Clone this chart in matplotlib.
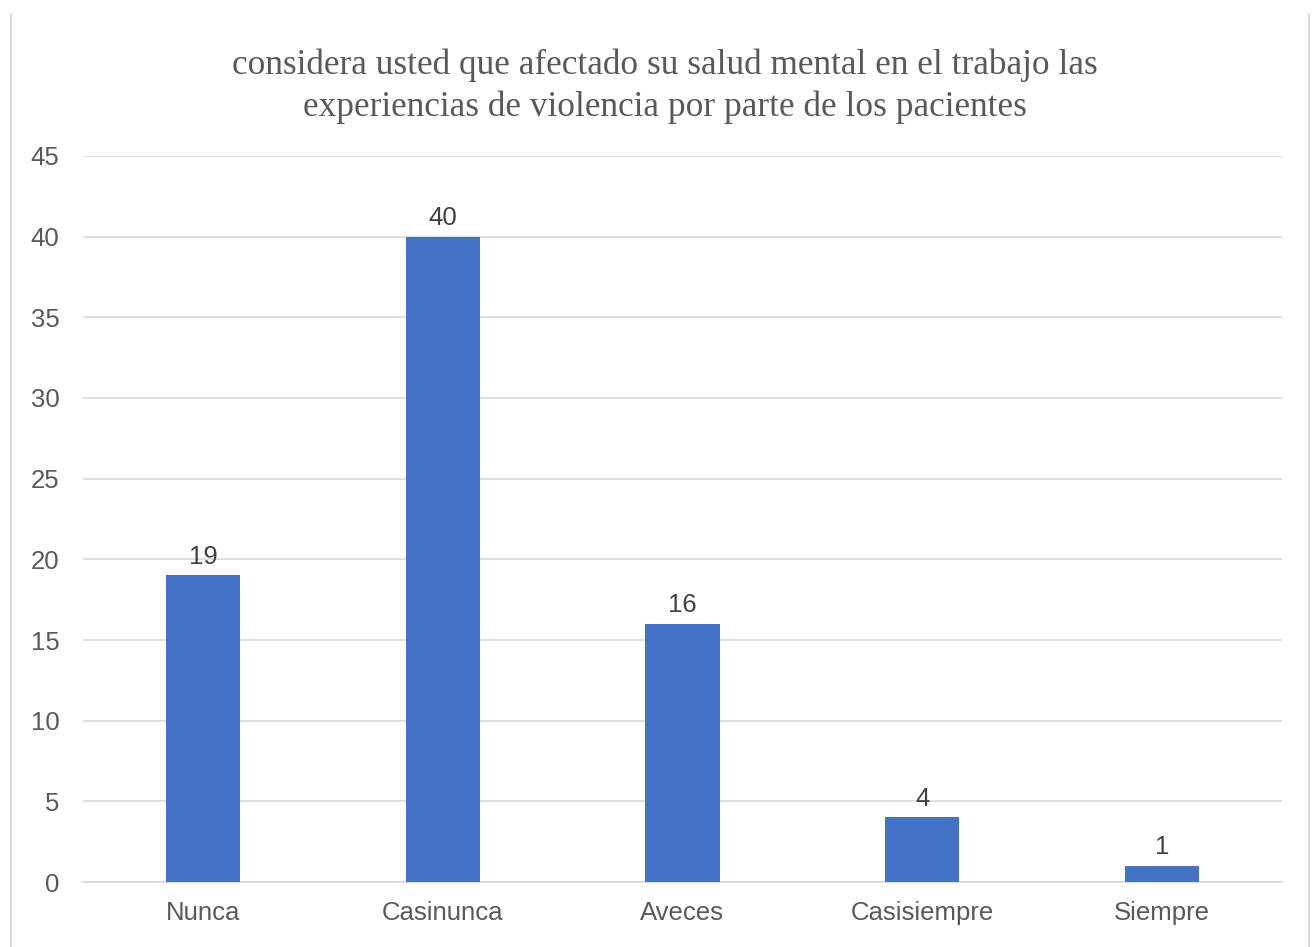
import matplotlib
matplotlib.use("Agg")
import matplotlib.pyplot as plt
from matplotlib.lines import Line2D

categorias = ["Nunca", "Casinunca", "Aveces", "Casisiempre", "Siempre"]
valores = [19, 40, 16, 4, 1]
ticks_y = [0, 5, 10, 15, 20, 25, 30, 35, 40, 45]
titulo = ("considera usted que afectado su salud mental en el trabajo las\n"
          "experiencias de violencia por parte de los pacientes")

fig = plt.figure(figsize=(13.12, 9.47), dpi=100)
ax = fig.add_axes([0.0633, 0.0686, 0.9137, 0.7667])

x = list(range(len(categorias)))
ax.bar(x, valores, width=0.31, color="#4472C4", zorder=3)
for xi, v in zip(x, valores):
    ax.annotate(str(v), (xi, v), xytext=(0, 5), textcoords="offset points",
                ha="center", va="bottom", fontsize=18.5, color="#404040",
                family="Liberation Sans")

ax.set_xlim(-0.5, len(categorias) - 0.5)
ax.set_ylim(0, 45)
ax.set_yticks(ticks_y)
ax.set_xticks(x)
ax.set_xticklabels(categorias)
ax.yaxis.grid(True, color="#D9D9D9", linewidth=1.2, zorder=0)
ax.set_axisbelow(True)
for s in ["top", "right", "left"]:
    ax.spines[s].set_visible(False)
ax.spines["bottom"].set_color("#D9D9D9")
ax.spines["bottom"].set_linewidth(1.2)
ax.tick_params(axis="both", length=0, labelsize=18.5, labelcolor="#595959")
ax.tick_params(axis="y", pad=17)
ax.tick_params(axis="x", pad=14)
for lab in ax.get_xticklabels() + ax.get_yticklabels():
    lab.set_family("Liberation Sans")

fig.text(0.507, 0.909, titulo, ha="center", va="center", fontsize=25.4,
         color="#595959", family="Liberation Serif", linespacing=1.32)

# borde del cuadro del grafico
fig.add_artist(Line2D([11 / 1312, 11 / 1312], [0, 1 - 15 / 947],
                      transform=fig.transFigure, color="#D9D9D9", lw=1.5))
fig.add_artist(Line2D([1309 / 1312, 1309 / 1312], [0, 1 - 15 / 947],
                      transform=fig.transFigure, color="#D9D9D9", lw=1.5))

fig.savefig("out.png", dpi=100)
